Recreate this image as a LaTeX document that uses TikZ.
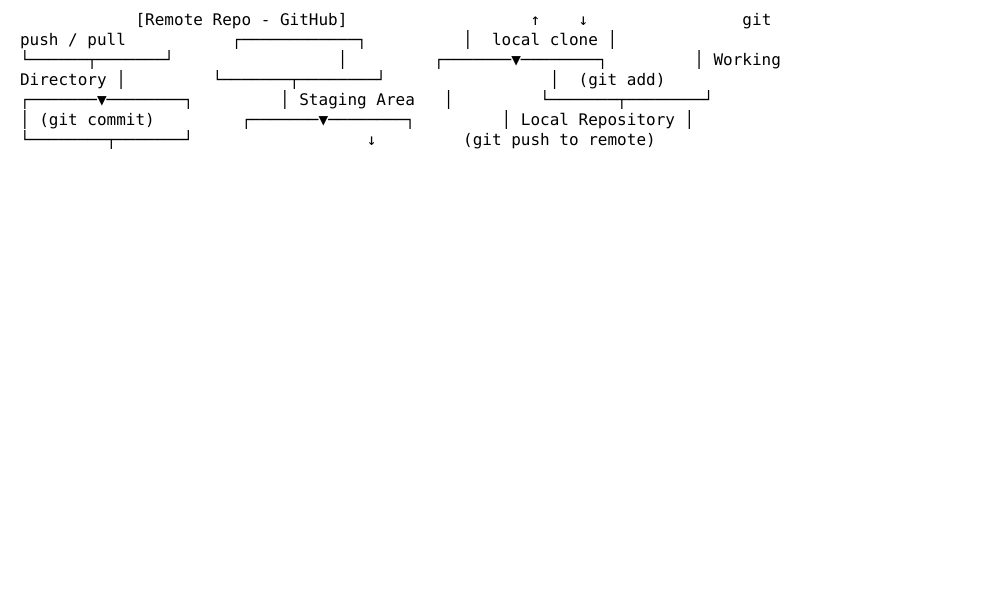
\documentclass[tikz,border=0pt]{standalone}
\usepackage{fontspec}
\setmonofont{DejaVu Sans Mono}
\usepackage{tikz}
\newcommand{\cw}{9.633}

\begin{document}
\begin{tikzpicture}[x=1pt,y=-1pt,
    mono/.style={anchor=base west,inner sep=0pt,outer sep=0pt,font=\ttfamily\fontsize{16}{20}\selectfont}]
    \useasboundingbox (0,0) rectangle (1000,600);
    % 第一行
    \node[mono] (remote) at (20+12*\cw,25) {[Remote Repo - GitHub]};
    \node[mono] (up) at (20+53*\cw,25) {↑};
    \node[mono] (down) at (20+58*\cw,25) {↓};
    \node[mono] (git) at (20+75*\cw,25) {git};
    % 第二行
    \node[mono] (push) at (20,45) {push / pull};
    \node[mono] (boxA) at (20+22*\cw,45) {┌────────────┐};
    \node[mono] (barA) at (20+46*\cw,45) {│};
    \node[mono] (clone) at (20+49*\cw,45) {local clone │};
    % 第三行
    \node[mono] (boxB) at (20,65) {└──────┬───────┘};
    \node[mono] (barB) at (20+33*\cw,65) {│};
    \node[mono] (boxC) at (20+43*\cw,65) {┌───────▼────────┐};
    \node[mono] (working) at (20+70*\cw,65) {│ Working};
    % 第四行
    \node[mono] (dir) at (20,85) {Directory │};
    \node[mono] (boxD) at (20+20*\cw,85) {└───────┬────────┘};
    \node[mono] (barD) at (20+55*\cw,85) {│};
    \node[mono] (add) at (20+58*\cw,85) {(git add)};
    % 第五行
    \node[mono] (boxE) at (20,105) {┌───────▼────────┐};
    \node[mono] (staging) at (20+27*\cw,105) {│ Staging Area};
    \node[mono] (barE) at (20+44*\cw,105) {│};
    \node[mono] (boxF) at (20+54*\cw,105) {└───────┬────────┘};
    % 第六行
    \node[mono] (commit) at (20,125) {│ (git commit)};
    \node[mono] (boxG) at (20+23*\cw,125) {┌───────▼────────┐};
    \node[mono] (repo) at (20+50*\cw,125) {│ Local Repository │};
    % 第七行
    \node[mono] (boxH) at (20,145) {└────────┬───────┘};
    \node[mono] (downB) at (20+36*\cw,145) {↓};
    \node[mono] (pushremote) at (20+46*\cw,145) {(git push to remote)};
\end{tikzpicture}
\end{document}
